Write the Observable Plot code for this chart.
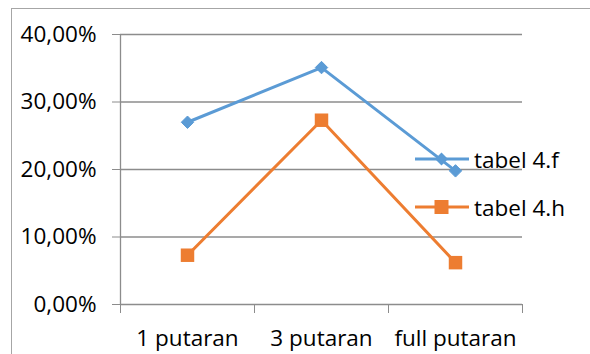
<!DOCTYPE html>
<html>
<head>
<meta charset="utf-8">
<script src="https://cdn.jsdelivr.net/npm/d3@7"></script>
<script src="https://cdn.jsdelivr.net/npm/@observablehq/plot@0.6"></script>
<style>
  html, body { margin: 0; padding: 0; background: #fff; }
  #wrap { position: relative; width: 590px; height: 354px; overflow: hidden; font-family: "Open Sans", sans-serif; }
  #frame { position: absolute; left: 11px; top: 8px; width: 700px; height: 500px; border: 1.5px solid #a6a6a6; box-sizing: border-box; }
  #chart { position: absolute; left: 0; top: 0; }
  #legend { position: absolute; left: 415px; top: 135px; font-size: 22.5px; color: #000; }
  .item { display: flex; align-items: center; height: 48px; }
  .item svg { margin-right: 5px; }
</style>
</head>
<body>
<div id="wrap">
  <div id="frame"></div>
  <div id="chart"></div>
  <div id="legend"></div>
</div>
<script>
const categories = ["1 putaran", "3 putaran", "full putaran"];
const seriesNames = ["tabel 4.f", "tabel 4.h"];
const tabel4f = [0.270, 0.351, 0.198];
const tabel4h = [0.073, 0.273, 0.062];
const yTicks = [0, 0.1, 0.2, 0.3, 0.4];
const colors = ["#5B9BD5", "#ED7D31"];

const rows = [];
categories.forEach((c, i) => {
  rows.push({series: seriesNames[0], pos: i + 0.5, value: tabel4f[i]});
  rows.push({series: seriesNames[1], pos: i + 0.5, value: tabel4h[i]});
});
const f = rows.filter(d => d.series === seriesNames[0]);
const h = rows.filter(d => d.series === seriesNames[1]);
const fmt = d => (d * 100).toFixed(2).replace(".", ",") + "%";

const chart = Plot.plot({
  width: 590,
  height: 354,
  marginLeft: 120,
  marginRight: 68,
  marginTop: 34,
  marginBottom: 50,
  style: {fontFamily: "Open Sans, sans-serif", fontSize: "22.5px", color: "#000", background: "transparent"},
  x: {type: "linear", domain: [0, categories.length]},
  y: {domain: [0, 0.4]},
  marks: [
    Plot.gridY(yTicks, {stroke: "#8c8c8c", strokeOpacity: 1, strokeWidth: 1.3}),
    Plot.ruleX([0], {stroke: "#8c8c8c", strokeWidth: 1.3}),
    Plot.axisY({ticks: yTicks, tickFormat: fmt, tickSize: 8, tickPadding: 16, stroke: "#8c8c8c", fill: "#000", label: null, fontSize: 22.5}),
    Plot.axisX({ticks: d3.range(categories.length + 1), tickSize: 9, tickFormat: () => "", stroke: "#8c8c8c", label: null}),
    Plot.axisX({ticks: categories.map((c, i) => i + 0.5), tickSize: 0, tickPadding: 26, tickFormat: d => categories[d - 0.5], label: null, fontSize: 22.5, fill: "#000"}),
    Plot.line(f, {x: "pos", y: "value", stroke: colors[0], strokeWidth: 3}),
    Plot.dot(f, {x: "pos", y: "value", symbol: "diamond2", fill: colors[0], stroke: colors[0], strokeWidth: 1, r: 5.6}),
    Plot.line(h, {x: "pos", y: "value", stroke: colors[1], strokeWidth: 3}),
    Plot.dot(h, {x: "pos", y: "value", symbol: "square", fill: colors[1], r: 7.6})
  ]
});
document.getElementById("chart").appendChild(chart);

const legend = document.getElementById("legend");
seriesNames.forEach((name, i) => {
  const item = document.createElement("div");
  item.className = "item";
  const marker = i === 0
    ? `<path d="M26.5,6.5 L33,13 L26.5,19.5 L20,13 Z" fill="${colors[0]}"/>`
    : `<rect x="19.5" y="6" width="14" height="14" fill="${colors[1]}"/>`;
  item.innerHTML = `<svg width="54" height="26"><line x1="0" x2="54" y1="13" y2="13" stroke="${colors[i]}" stroke-width="3"/>${marker}</svg><span>${name}</span>`;
  legend.appendChild(item);
});
</script>
</body>
</html>
